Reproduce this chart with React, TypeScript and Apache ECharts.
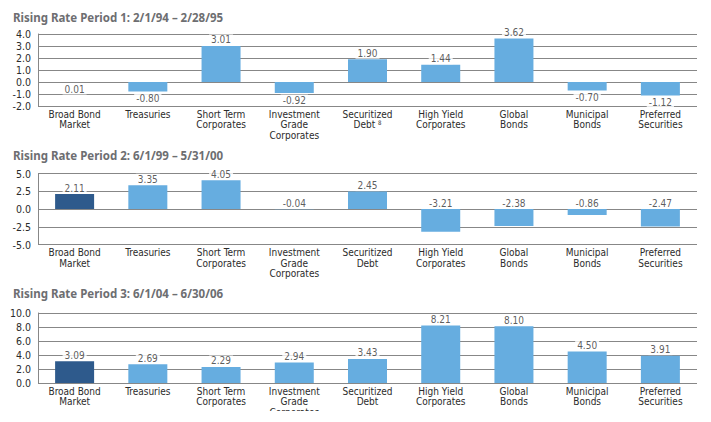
import React, { useEffect, useRef } from "react";
import * as echarts from "echarts";

const titles = [
  "Rising Rate Period 1: 2/1/94 \u2013 2/28/95",
  "Rising Rate Period 2: 6/1/99 \u2013 5/31/00",
  "Rising Rate Period 3: 6/1/04 \u2013 6/30/06",
];

const categories1 = [
  "Broad Bond\nMarket",
  "Treasuries",
  "Short Term\nCorporates",
  "Investment\nGrade\nCorporates",
  "Securitized\nDebt {sup|8}",
  "High Yield\nCorporates",
  "Global\nBonds",
  "Municipal\nBonds",
  "Preferred\nSecurities",
];
const categories = [
  "Broad Bond\nMarket",
  "Treasuries",
  "Short Term\nCorporates",
  "Investment\nGrade\nCorporates",
  "Securitized\nDebt",
  "High Yield\nCorporates",
  "Global\nBonds",
  "Municipal\nBonds",
  "Preferred\nSecurities",
];

const period1 = [0.01, -0.8, 3.01, -0.92, 1.9, 1.44, 3.62, -0.7, -1.12];
const period2 = [2.11, 3.35, 4.05, -0.04, 2.45, -3.21, -2.38, -0.86, -2.47];
const period3 = [3.09, 2.69, 2.29, 2.94, 3.43, 8.21, 8.1, 4.5, 3.91];

const axis1 = { min: -2, max: 4, interval: 1 };
const axis2 = { min: -5, max: 5, interval: 2.5 };
const axis3 = { min: 0, max: 10, interval: 2 };

const DARK = "#2e5a8c";
const LIGHT = "#66ade0";
const GRID_COLOR = "#878787";
const FONT = "'DejaVu Sans Condensed', 'Liberation Sans', sans-serif";

export default function App() {
  const ref = useRef<HTMLDivElement>(null);
  useEffect(() => {
    if (!ref.current) return;
    const chart = echarts.init(ref.current, null, { renderer: "svg" });

    const grids = [
      { left: 38, width: 659, top: 34, height: 72, outerBoundsMode: "none" },
      { left: 38, width: 659, top: 173.5, height: 71, outerBoundsMode: "none" },
      { left: 38, width: 659, top: 313, height: 70, outerBoundsMode: "none" },
    ];
    const titleTops = [11.5, 149.5, 287.5];
    const axes = [axis1, axis2, axis3];
    const datasets = [period1, period2, period3];
    const cats = [categories1, categories, categories];

    // label placement: chart 1 labels sit at bar end (near-zero/negatives below),
    // chart 2 labels sit above the bar or above zero line, chart 3 above the bar.
    const labelAnchor = (chartIdx: number, v: number) => {
      if (chartIdx === 0) {
        return v > 0.05 ? { y: v, pos: "top" } : { y: Math.min(v, 0), pos: "bottom" };
      }
      return { y: Math.max(v, 0), pos: "top" };
    };

    const series: any[] = [];
    datasets.forEach((vals, ci) => {
      series.push({
        type: "bar",
        xAxisIndex: ci,
        yAxisIndex: ci,
        barWidth: 39,
        z: 2,
        data: vals.map((v, i) => ({
          value: v,
          itemStyle: { color: i === 0 ? DARK : LIGHT },
        })),
        silent: true,
      });
      series.push({
        type: "scatter",
        xAxisIndex: ci,
        yAxisIndex: ci,
        symbolSize: 1,
        z: 5,
        itemStyle: { color: "transparent" },
        silent: true,
        data: vals.map((v, i) => {
          const a = labelAnchor(ci, v);
          return {
            value: [i, a.y],
            label: {
              show: true,
              position: a.pos,
              distance: a.pos === "top" ? 0 : 1,
              formatter: () => v.toFixed(2),
              fontFamily: FONT,
              fontSize: 10,
              lineHeight: 11,
              color: "#333",
              backgroundColor: "#fff",
              padding: [0, 2],
            },
          };
        }),
      });
    });

    chart.setOption({
      animation: false,
      backgroundColor: "#fff",
      title: titles.map((t, i) => ({
        text: t,
        left: 13,
        top: titleTops[i],
        padding: 0,
        textStyle: {
          fontFamily: "'Noto Sans', sans-serif",
          fontWeight: "bold",
          fontSize: 11.5,
          color: "#6d6e71",
        },
      })),
      grid: grids,
      xAxis: cats.map((c, i) => ({
        type: "category",
        gridIndex: i,
        data: c,
        axisLine: { show: false },
        axisTick: { show: false },
        splitLine: { show: false },
        axisLabel: {
          interval: 0,
          margin: 3,
          fontFamily: FONT,
          fontSize: 10,
          lineHeight: 10.5,
          color: "#2b2b2b",
          rich: {
            sup: { fontSize: 6, verticalAlign: "top", fontFamily: FONT, color: "#333", lineHeight: 10.5 },
          },
        },
      })),
      yAxis: axes.map((a, i) => ({
        type: "value",
        gridIndex: i,
        min: a.min,
        max: a.max,
        interval: a.interval,
        axisLine: { show: true, lineStyle: { color: GRID_COLOR, width: 1 } },
        axisTick: { show: false },
        splitLine: { show: true, lineStyle: { color: GRID_COLOR, width: 1 } },
        axisLabel: {
          margin: 7,
          fontFamily: FONT,
          fontSize: 10.5,
          color: "#2b2b2b",
          formatter: (v: number) => v.toFixed(1),
        },
      })),
      series,
    });

    return () => chart.dispose();
  }, []);

  return (
    <div
      ref={ref}
      style={{ position: "fixed", left: 0, top: 0, width: 711, height: 411, background: "#fff" }}
    />
  );
}
